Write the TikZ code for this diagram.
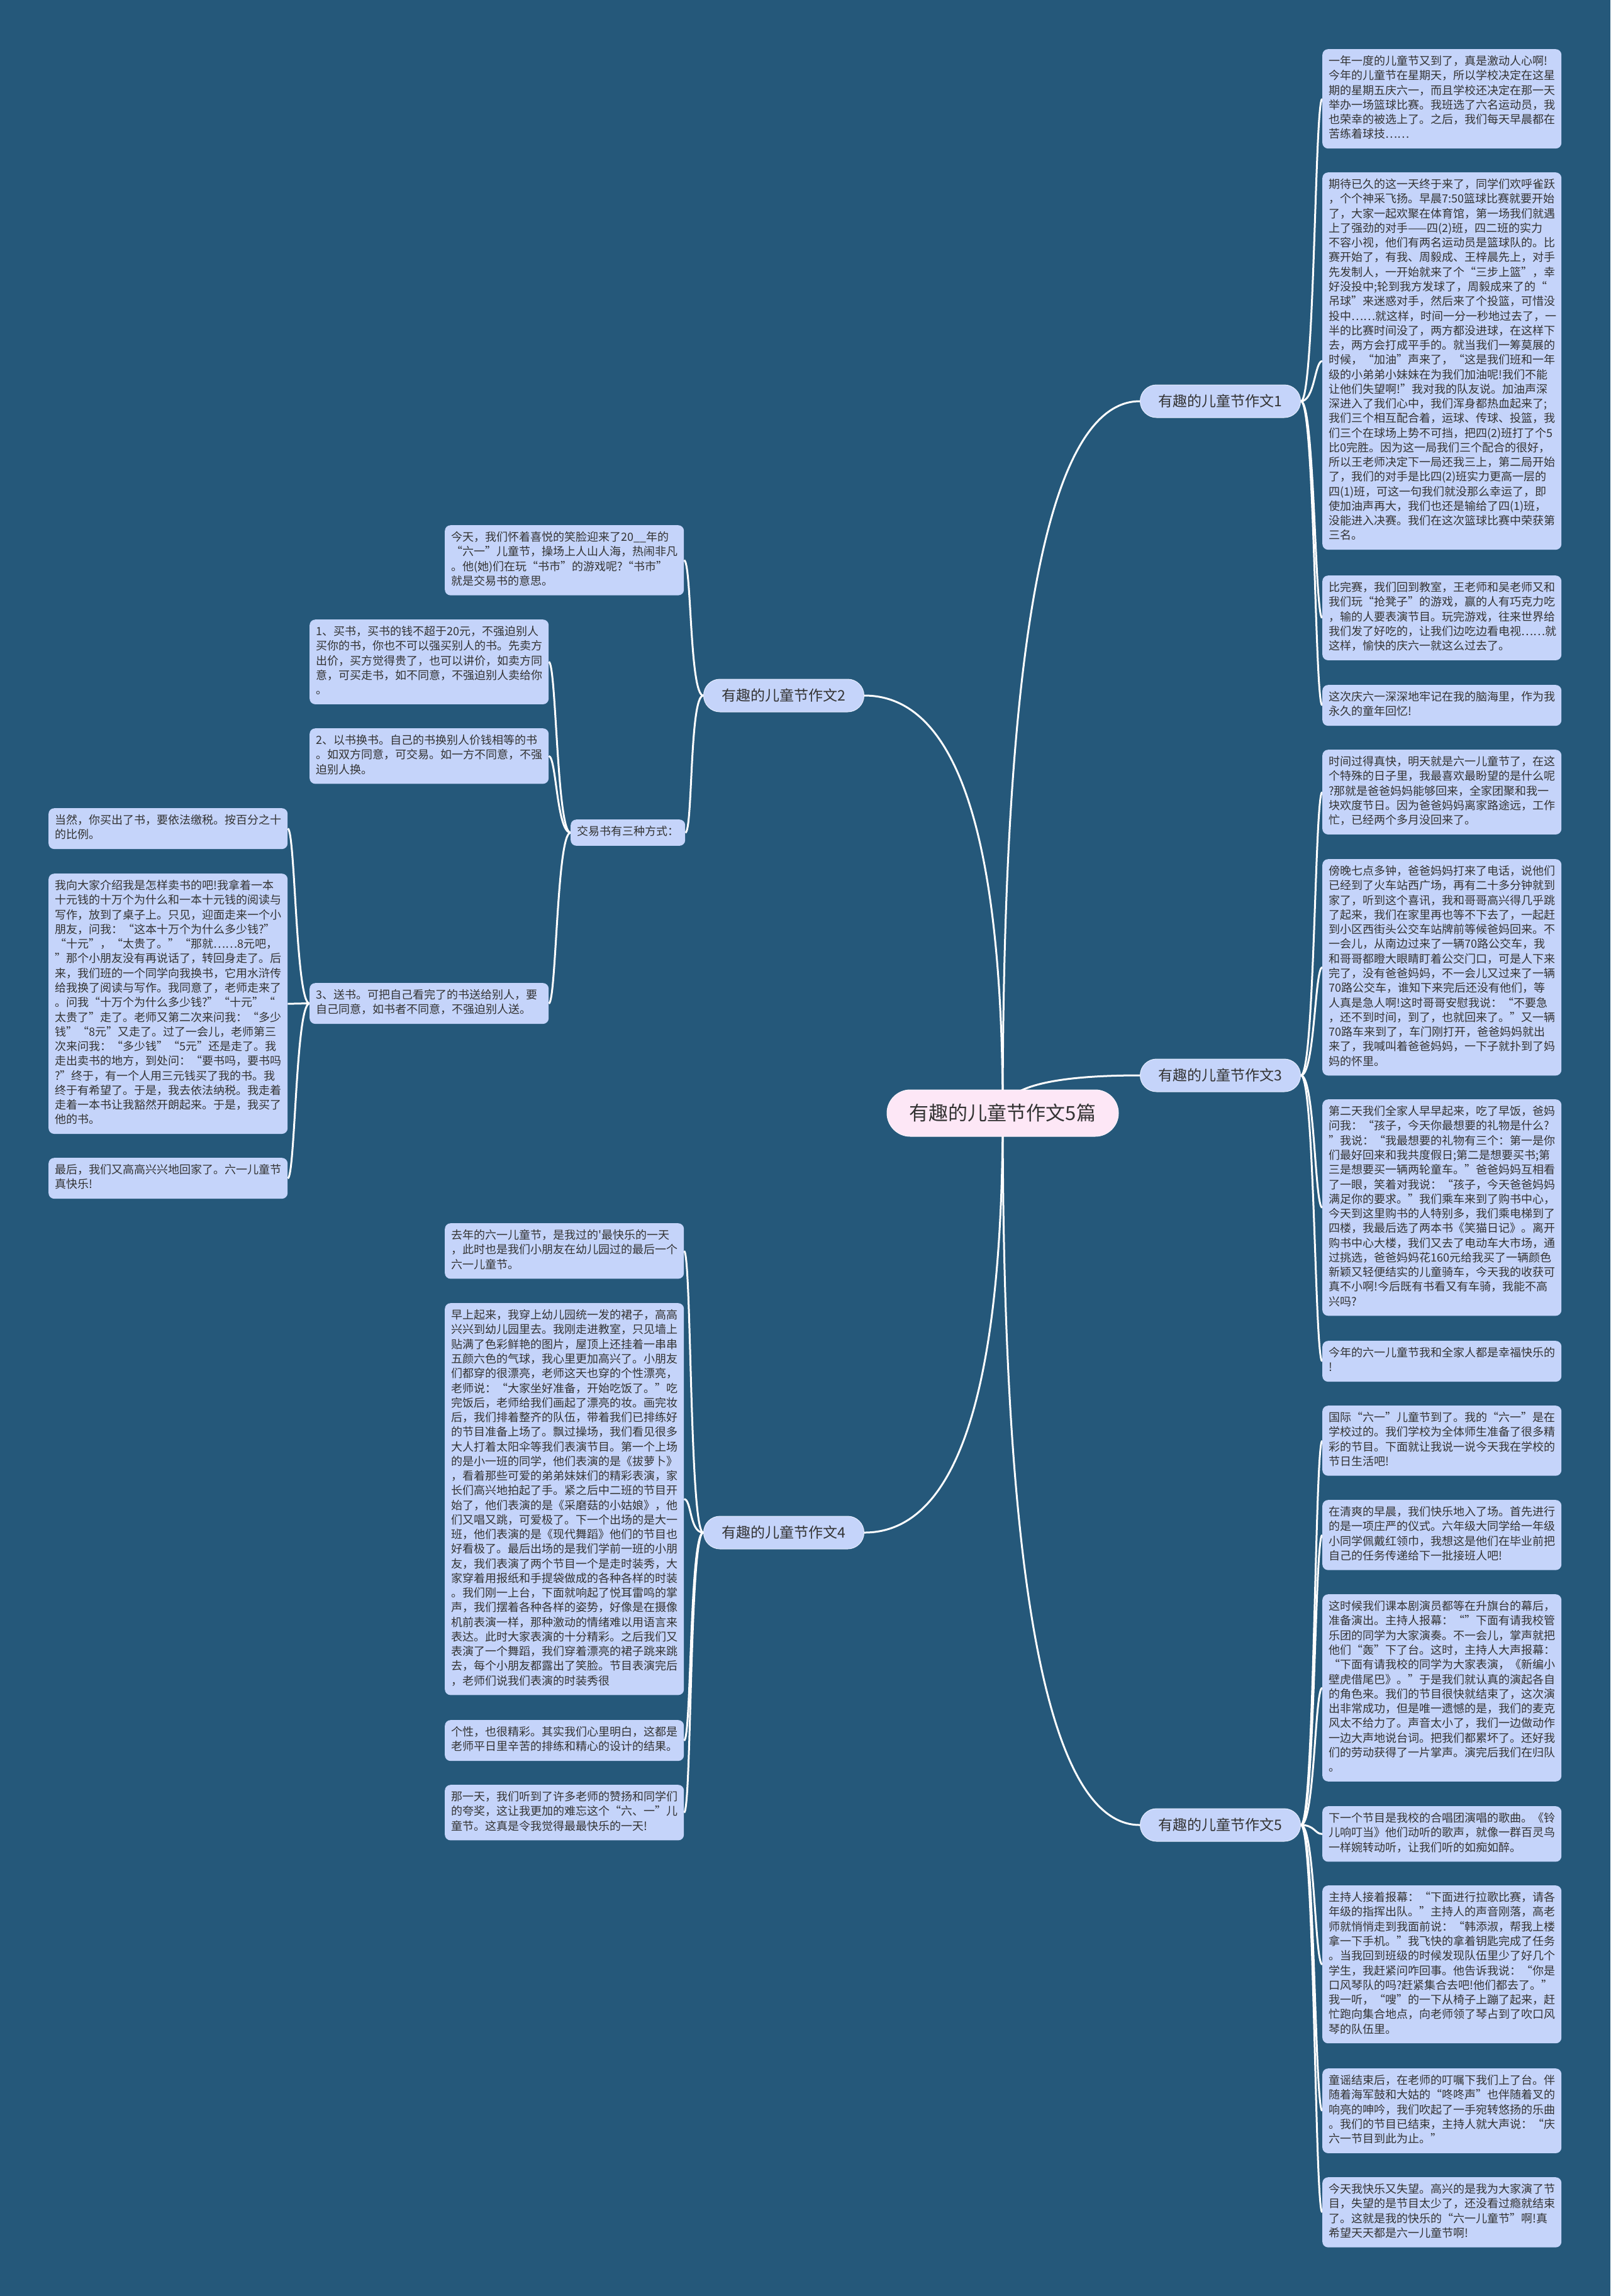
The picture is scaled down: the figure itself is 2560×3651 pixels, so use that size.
\documentclass[tikz,border=0pt]{standalone}
\usepackage{fontspec}
\newfontfamily\zhfont{Noto Sans CJK SC}
\usetikzlibrary{calc, backgrounds}
\definecolor{mapBlue}{RGB}{37,88,122}
\definecolor{cardBlue}{RGB}{197,212,250}
\definecolor{hubPink}{RGB}{253,231,246}
\definecolor{inkGray}{RGB}{51,51,51}

\begin{document}
\begin{tikzpicture}[
    x=1pt, y=-1pt,
    card/.style={fill=cardBlue, rounded corners=9pt, anchor=north west, text width=360pt, align=left, inner xsep=10pt, inner ysep=9.2pt, text=inkGray, font=\zhfont\fontsize{18}{23.26}\selectfont, execute at begin node=\strut, execute at end node=\strut},
    topic/.style={fill=cardBlue, draw=white!55!cardBlue, line width=1pt, rounded corners=26pt, minimum width=255pt, minimum height=52pt, inner sep=0pt, text=inkGray, font=\zhfont\fontsize{23}{28}\selectfont},
    hub/.style={fill=hubPink, draw=white!60!hubPink, line width=1pt, rounded corners=37pt, minimum width=368pt, minimum height=74pt, inner sep=0pt, text=inkGray, font=\zhfont\fontsize{31}{36}\selectfont},
    wire/.style={draw=white, line width=3pt},
    trunk/.style={to path={.. controls ($(\tikztostart)!2/3!(\tikztostart |- \tikztotarget)$) and ($(\tikztotarget)!2/3!(\tikztostart |- \tikztotarget)$) .. (\tikztotarget)}},
    rfan/.style={to path={.. controls +(22,0) and +(-12,0) .. (\tikztotarget)}},
    lfan/.style={to path={.. controls +(-22,0) and +(12,0) .. (\tikztotarget)}}
]
    \useasboundingbox (0,0) rectangle (2560,3651);

    \node[hub] (root) at (1594,1770) {有趣的儿童节作文5篇};
    \node[topic] (t1) at (1940,638) {有趣的儿童节作文1};
    \node[topic] (t2) at (1246,1106) {有趣的儿童节作文2};
    \node[topic] (t3) at (1940,1710) {有趣的儿童节作文3};
    \node[topic] (t4) at (1246,2437) {有趣的儿童节作文4};
    \node[topic] (t5) at (1940,2902) {有趣的儿童节作文5};

    \node[card] (c1a) at (2102,78) {一年一度的儿童节又到了，真是激动人心啊!\\今年的儿童节在星期天，所以学校决定在这星\\期的星期五庆六一，而且学校还决定在那一天\\举办一场篮球比赛。我班选了六名运动员，我\\也荣幸的被选上了。之后，我们每天早晨都在\\苦练着球技……};
    \node[card] (c1b) at (2102,274) {期待已久的这一天终于来了，同学们欢呼雀跃\\，个个神采飞扬。早晨7:50篮球比赛就要开始\\了，大家一起欢聚在体育馆，第一场我们就遇\\上了强劲的对手——四(2)班，四二班的实力\\不容小视，他们有两名运动员是篮球队的。比\\赛开始了，有我、周毅成、王梓晨先上，对手\\先发制人，一开始就来了个“三步上篮”，幸\\好没投中;轮到我方发球了，周毅成来了的“\\吊球”来迷惑对手，然后来了个投篮，可惜没\\投中……就这样，时间一分一秒地过去了，一\\半的比赛时间没了，两方都没进球，在这样下\\去，两方会打成平手的。就当我们一筹莫展的\\时候，“加油”声来了，“这是我们班和一年\\级的小弟弟小妹妹在为我们加油呢!我们不能\\让他们失望啊!”我对我的队友说。加油声深\\深进入了我们心中，我们浑身都热血起来了;\\我们三个相互配合着，运球、传球、投篮，我\\们三个在球场上势不可挡，把四(2)班打了个5\\比0完胜。因为这一局我们三个配合的很好，\\所以王老师决定下一局还我三上，第二局开始\\了，我们的对手是比四(2)班实力更高一层的\\四(1)班，可这一句我们就没那么幸运了，即\\使加油声再大，我们也还是输给了四(1)班，\\没能进入决赛。我们在这次篮球比赛中荣获第\\三名。};
    \node[card] (c1c) at (2102,915) {比完赛，我们回到教室，王老师和吴老师又和\\我们玩“抢凳子”的游戏，赢的人有巧克力吃\\，输的人要表演节目。玩完游戏，往来世界给\\我们发了好吃的，让我们边吃边看电视……就\\这样，愉快的庆六一就这么过去了。};
    \node[card] (c1d) at (2102,1089) {这次庆六一深深地牢记在我的脑海里，作为我\\永久的童年回忆!};

    \node[card] (c3a) at (2102,1192) {时间过得真快，明天就是六一儿童节了，在这\\个特殊的日子里，我最喜欢最盼望的是什么呢\\?那就是爸爸妈妈能够回来，全家团聚和我一\\块欢度节日。因为爸爸妈妈离家路途远，工作\\忙，已经两个多月没回来了。};
    \node[card] (c3b) at (2102,1366) {傍晚七点多钟，爸爸妈妈打来了电话，说他们\\已经到了火车站西广场，再有二十多分钟就到\\家了，听到这个喜讯，我和哥哥高兴得几乎跳\\了起来，我们在家里再也等不下去了，一起赶\\到小区西街头公交车站牌前等候爸妈回来。不\\一会儿，从南边过来了一辆70路公交车，我\\和哥哥都瞪大眼睛盯着公交门口，可是人下来\\完了，没有爸爸妈妈，不一会儿又过来了一辆\\70路公交车，谁知下来完后还没有他们，等\\人真是急人啊!这时哥哥安慰我说：“不要急\\，还不到时间，到了，也就回来了。”又一辆\\70路车来到了，车门刚打开，爸爸妈妈就出\\来了，我喊叫着爸爸妈妈，一下子就扑到了妈\\妈的怀里。};
    \node[card] (c3c) at (2102,1748) {第二天我们全家人早早起来，吃了早饭，爸妈\\问我：“孩子，今天你最想要的礼物是什么?\\”我说：“我最想要的礼物有三个：第一是你\\们最好回来和我共度假日;第二是想要买书;第\\三是想要买一辆两轮童车。”爸爸妈妈互相看\\了一眼，笑着对我说：“孩子，今天爸爸妈妈\\满足你的要求。”我们乘车来到了购书中心，\\今天到这里购书的人特别多，我们乘电梯到了\\四楼，我最后选了两本书《笑猫日记》。离开\\购书中心大楼，我们又去了电动车大市场，通\\过挑选，爸爸妈妈花160元给我买了一辆颜色\\新颖又轻便结实的儿童骑车，今天我的收获可\\真不小啊!今后既有书看又有车骑，我能不高\\兴吗?};
    \node[card] (c3d) at (2102,2132) {今年的六一儿童节我和全家人都是幸福快乐的\\!};

    \node[card] (c5a) at (2102,2235) {国际“六一”儿童节到了。我的“六一”是在\\学校过的。我们学校为全体师生准备了很多精\\彩的节目。下面就让我说一说今天我在学校的\\节日生活吧!};
    \node[card] (c5b) at (2102,2385) {在清爽的早晨，我们快乐地入了场。首先进行\\的是一项庄严的仪式。六年级大同学给一年级\\小同学佩戴红领巾，我想这是他们在毕业前把\\自己的任务传递给下一批接班人吧!};
    \node[card] (c5c) at (2102,2535) {这时候我们课本剧演员都等在升旗台的幕后，\\准备演出。主持人报幕：“”下面有请我校管\\乐团的同学为大家演奏。不一会儿，掌声就把\\他们“轰”下了台。这时，主持人大声报幕：\\“下面有请我校的同学为大家表演，《新编小\\壁虎借尾巴》。”于是我们就认真的演起各自\\的角色来。我们的节目很快就结束了，这次演\\出非常成功，但是唯一遗憾的是，我们的麦克\\风太不给力了。声音太小了，我们一边做动作\\一边大声地说台词。把我们都累坏了。还好我\\们的劳动获得了一片掌声。演完后我们在归队\\。};
    \node[card] (c5d) at (2102,2872) {下一个节目是我校的合唱团演唱的歌曲。《铃\\儿响叮当》他们动听的歌声，就像一群百灵鸟\\一样婉转动听，让我们听的如痴如醉。};
    \node[card] (c5e) at (2102,2998) {主持人接着报幕：“下面进行拉歌比赛，请各\\年级的指挥出队。”主持人的声音刚落，高老\\师就悄悄走到我面前说：“韩添淑，帮我上楼\\拿一下手机。”我飞快的拿着钥匙完成了任务\\。当我回到班级的时候发现队伍里少了好几个\\学生，我赶紧问咋回事。他告诉我说：“你是\\口风琴队的吗?赶紧集合去吧!他们都去了。”\\我一听，“嗖”的一下从椅子上蹦了起来，赶\\忙跑向集合地点，向老师领了琴占到了吹口风\\琴的队伍里。};
    \node[card] (c5f) at (2102,3289) {童谣结束后，在老师的叮嘱下我们上了台。伴\\随着海军鼓和大姑的“咚咚声”也伴随着叉的\\响亮的呻吟，我们吹起了一手宛转悠扬的乐曲\\。我们的节目已结束，主持人就大声说：“庆\\六一节目到此为止。”};
    \node[card] (c5g) at (2102,3462) {今天我快乐又失望。高兴的是我为大家演了节\\目，失望的是节目太少了，还没看过瘾就结束\\了。这就是我的快乐的“六一儿童节”啊!真\\希望天天都是六一儿童节啊!};

    \node[card] (c2a) at (707,835) {今天，我们怀着喜悦的笑脸迎来了20\_\_年的\\“六一”儿童节，操场上人山人海，热闹非凡\\。他(她)们在玩“书市”的游戏呢?“书市”\\就是交易书的意思。};
    \node[card, text width=162pt] (ways) at (907,1303) {交易书有三种方式：};
    \node[card] (way1) at (492,985) {1、买书，买书的钱不超于20元，不强迫别人\\买你的书，你也不可以强买别人的书。先卖方\\出价，买方觉得贵了，也可以讲价，如卖方同\\意，可买走书，如不同意，不强迫别人卖给你\\。};
    \node[card] (way2) at (492,1158) {2、以书换书。自己的书换别人价钱相等的书\\。如双方同意，可交易。如一方不同意，不强\\迫别人换。};
    \node[card] (way3) at (492,1563) {3、送书。可把自己看完了的书送给别人，要\\自己同意，如书者不同意，不强迫别人送。};
    \node[card] (tax) at (77,1285) {当然，你买出了书，要依法缴税。按百分之十\\的比例。};
    \node[card] (sell) at (77,1389) {我向大家介绍我是怎样卖书的吧!我拿着一本\\十元钱的十万个为什么和一本十元钱的阅读与\\写作，放到了桌子上。只见，迎面走来一个小\\朋友，问我：“这本十万个为什么多少钱?”\\“十元”，“太贵了。”“那就……8元吧，\\”那个小朋友没有再说话了，转回身走了。后\\来，我们班的一个同学向我换书，它用水浒传\\给我换了阅读与写作。我同意了，老师走来了\\。问我“十万个为什么多少钱?”“十元”“\\太贵了”走了。老师又第二次来问我：“多少\\钱”“8元”又走了。过了一会儿，老师第三\\次来问我：“多少钱”“5元”还是走了。我\\走出卖书的地方，到处问：“要书吗，要书吗\\?”终于，有一个人用三元钱买了我的书。我\\终于有希望了。于是，我去依法纳税。我走着\\走着一本书让我豁然开朗起来。于是，我买了\\他的书。};
    \node[card] (home) at (77,1841) {最后，我们又高高兴兴地回家了。六一儿童节\\真快乐!};

    \node[card] (c4a) at (707,1945) {去年的六一儿童节，是我过的'最快乐的一天\\，此时也是我们小朋友在幼儿园过的最后一个\\六一儿童节。};
    \node[card] (c4b) at (707,2072) {早上起来，我穿上幼儿园统一发的裙子，高高\\兴兴到幼儿园里去。我刚走进教室，只见墙上\\贴满了色彩鲜艳的图片，屋顶上还挂着一串串\\五颜六色的气球，我心里更加高兴了。小朋友\\们都穿的很漂亮，老师这天也穿的个性漂亮，\\老师说：“大家坐好准备，开始吃饭了。”吃\\完饭后，老师给我们画起了漂亮的妆。画完妆\\后，我们排着整齐的队伍，带着我们已排练好\\的节目准备上场了。飘过操场，我们看见很多\\大人打着太阳伞等我们表演节目。第一个上场\\的是小一班的同学，他们表演的是《拔萝卜》\\，看着那些可爱的弟弟妹妹们的精彩表演，家\\长们高兴地拍起了手。紧之后中二班的节目开\\始了，他们表演的是《采磨菇的小姑娘》，他\\们又唱又跳，可爱极了。下一个出场的是大一\\班，他们表演的是《现代舞蹈》他们的节目也\\好看极了。最后出场的是我们学前一班的小朋\\友，我们表演了两个节目一个是走时装秀，大\\家穿着用报纸和手提袋做成的各种各样的时装\\。我们刚一上台，下面就响起了悦耳雷鸣的掌\\声，我们摆着各种各样的姿势，好像是在摄像\\机前表演一样，那种激动的情绪难以用语言来\\表达。此时大家表演的十分精彩。之后我们又\\表演了一个舞蹈，我们穿着漂亮的裙子跳来跳\\去，每个小朋友都露出了笑脸。节目表演完后\\，老师们说我们表演的时装秀很};
    \node[card] (c4c) at (707,2735) {个性，也很精彩。其实我们心里明白，这都是\\老师平日里辛苦的排练和精心的设计的结果。};
    \node[card] (c4d) at (707,2838) {那一天，我们听到了许多老师的赞扬和同学们\\的夸奖，这让我更加的难忘这个“六、一”儿\\童节。这真是令我觉得最最快乐的一天!};

    \begin{scope}[on background layer]
        \fill[mapBlue] (0,0) rectangle (2560,3651);

        \draw[wire, trunk] (root.center) to (t1.west);
        \draw[wire, trunk] (root.center) to (t3.west);
        \draw[wire, trunk] (root.center) to (t5.west);
        \draw[wire, trunk] (root.center) to (t2.east);
        \draw[wire, trunk] (root.center) to (t4.east);

        \draw[wire, rfan] (t1.east) to (c1a.west);
        \draw[wire, rfan] (t1.east) to (c1b.west);
        \draw[wire, rfan] (t1.east) to (c1c.west);
        \draw[wire, rfan] (t1.east) to (c1d.west);

        \draw[wire, rfan] (t3.east) to (c3a.west);
        \draw[wire, rfan] (t3.east) to (c3b.west);
        \draw[wire, rfan] (t3.east) to (c3c.west);
        \draw[wire, rfan] (t3.east) to (c3d.west);

        \draw[wire, rfan] (t5.east) to (c5a.west);
        \draw[wire, rfan] (t5.east) to (c5b.west);
        \draw[wire, rfan] (t5.east) to (c5c.west);
        \draw[wire, rfan] (t5.east) to (c5d.west);
        \draw[wire, rfan] (t5.east) to (c5e.west);
        \draw[wire, rfan] (t5.east) to (c5f.west);
        \draw[wire, rfan] (t5.east) to (c5g.west);

        \draw[wire, lfan] (t2.west) to (c2a.east);
        \draw[wire, lfan] (t2.west) to (ways.east);
        \draw[wire, lfan] (ways.west) to (way1.east);
        \draw[wire, lfan] (ways.west) to (way2.east);
        \draw[wire, lfan] (ways.west) to (way3.east);
        \draw[wire, lfan] (way3.west) to (tax.east);
        \draw[wire, lfan] (way3.west) to (sell.east);
        \draw[wire, lfan] (way3.west) to (home.east);

        \draw[wire, lfan] (t4.west) to (c4a.east);
        \draw[wire, lfan] (t4.west) to (c4b.east);
        \draw[wire, lfan] (t4.west) to (c4c.east);
        \draw[wire, lfan] (t4.west) to (c4d.east);
    \end{scope}
\end{tikzpicture}
\end{document}
